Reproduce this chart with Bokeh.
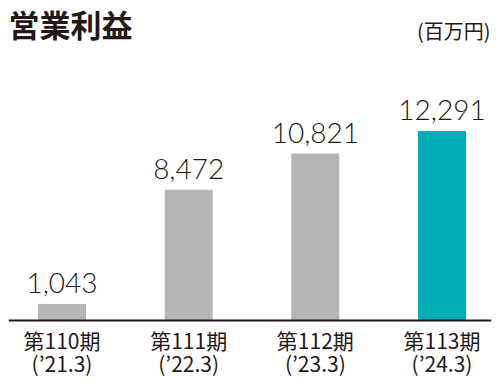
from bokeh.plotting import figure
from bokeh.models import Range1d, Span, Label, ColumnDataSource
from bokeh.core.properties import value
from bokeh.embed import file_html
from bokeh.resources import INLINE

# ---- data ----
periods = ["第110期", "第111期", "第112期", "第113期"]
fiscal = ["(’21.3)", "(’22.3)", "(’23.3)", "(’24.3)"]
profit = [1043, 8472, 10821, 12291]
colors = ["#b5b5b5", "#b5b5b5", "#b5b5b5", "#00aeba"]
title_text = "営業利益"
unit_text = "(百万円)"

TXT = "#231815"
JP = "Noto Sans CJK JP"

xs = list(range(len(periods)))
src = ColumnDataSource(dict(
    x=xs, y=profit, color=colors,
    lbl=[f"{v:,}" for v in profit],
    zero=[0] * len(xs), per=periods, fy=fiscal,
))

p = figure(width=500, height=380, output_backend="svg", toolbar_location=None,
           x_range=Range1d(-0.4224, 3.3907), y_range=Range1d(-3902, 20810),
           min_border=0, min_border_left=8, min_border_right=9,
           outline_line_color=None)
p.axis.visible = False
p.grid.visible = False
p.background_fill_color = "white"
p.border_fill_color = "white"

p.vbar(x="x", top="y", width=0.371, color="color", source=src)

p.add_layout(Span(location=0, dimension="width", line_color=TXT, line_width=2.2))

p.text(x="x", y="y", text="lbl", source=src, text_align="center",
       text_baseline="middle", y_offset=-21, text_font=value("Lato Light"),
       text_font_size="28px", text_color=TXT)

p.text(x="x", y="zero", text="per", source=src, text_align="center",
       text_baseline="middle", y_offset=20, text_font=value(JP),
       text_font_size="21px", text_color=TXT)
p.text(x="x", y="zero", text="fy", source=src, text_align="center",
       text_baseline="middle", y_offset=43, text_font=value(JP),
       text_font_size="21px", text_color=TXT)

p.add_layout(Label(x=0, y=357, x_units="screen", y_units="screen", text=title_text,
                   text_font=JP, text_font_size="31px", text_font_style="bold",
                   text_baseline="middle", text_align="left", text_color=TXT))
p.add_layout(Label(x=482, y=350, x_units="screen", y_units="screen", text=unit_text,
                   text_font=JP, text_font_size="20px",
                   text_baseline="middle", text_align="right", text_color=TXT))

open("out.html", "w").write(file_html(p, INLINE))
